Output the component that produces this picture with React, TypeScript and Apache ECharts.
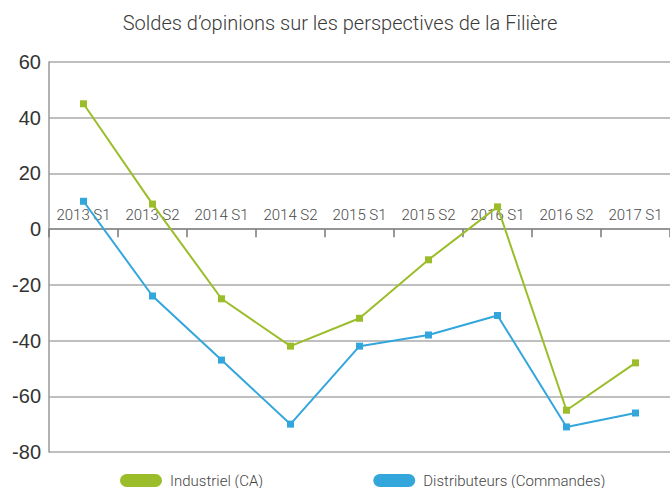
import React, { useEffect, useRef } from "react";
import * as echarts from "echarts";

const categories = ["2013 S1", "2013 S2", "2014 S1", "2014 S2", "2015 S1", "2015 S2", "2016 S1", "2016 S2", "2017 S1"];
const industriel = [45, 9, -25, -42, -32, -11, 8, -65, -48];
const distributeurs = [10, -24, -47, -70, -42, -38, -31, -71, -66];
const seriesNames = ["Industriel (CA)", "Distributeurs (Commandes)"];
const titleText = "Soldes d\u2019opinions sur les perspectives de la Filière";

const narrow = 'Roboto, "Liberation Sans", sans-serif';
const capsule = "path://M6.5,0 L35.5,0 A6.5,6.5 0 0 1 35.5,13 L6.5,13 A6.5,6.5 0 0 1 6.5,0 Z";

export default function App() {
  const ref = useRef<HTMLDivElement>(null);
  useEffect(() => {
    if (!ref.current) return;
    const chart = echarts.init(ref.current, null, { renderer: "svg" });
    chart.setOption({
      animation: false,
      backgroundColor: "#ffffff",
      graphic: [
        {
          type: "text",
          x: 340,
          y: 23,
          scaleX: 0.955,
          style: {
            text: titleText,
            fontFamily: narrow,
            fontSize: 21,
            fontWeight: 300,
            fill: "#3a3a3a",
            align: "center",
            verticalAlign: "middle",
          },
        },
      ],
      legend: {
        left: 120,
        top: 473,
        padding: 0,
        itemWidth: 42,
        itemHeight: 13,
        itemGap: 110,
        icon: capsule,
        textStyle: { fontFamily: narrow, fontSize: 15, lineHeight: 15, fontWeight: 300, color: "#444", padding: [0, 0, 0, 3] },
        data: seriesNames,
      },
      grid: { left: 49, top: 62, width: 630, height: 390, containLabel: false },
      xAxis: {
        type: "category",
        data: categories,
        boundaryGap: true,
        axisLine: { onZero: true, lineStyle: { color: "#888", width: 1.5 } },
        axisTick: { show: true, inside: false, length: 8, lineStyle: { color: "#777", width: 1.5 } },
        axisLabel: { inside: true, margin: 230, fontFamily: narrow, fontSize: 15, fontWeight: 300, color: "#4a4a4a", interval: 0 },
        splitLine: { show: false },
      },
      yAxis: {
        type: "value",
        min: -80,
        max: 60,
        interval: 20,
        axisLine: { show: true, lineStyle: { color: "#999", width: 1.5 } },
        axisTick: { show: false },
        axisLabel: { fontFamily: '"Liberation Sans", Arial, sans-serif', fontSize: 20, color: "#333", margin: 8 },
        splitLine: { show: true, lineStyle: { color: "#aaa", width: 1.5 } },
      },
      series: [
        {
          name: seriesNames[0],
          type: "line",
          data: industriel,
          symbol: "rect",
          symbolSize: 7,
          color: "#9bbd2a",
          lineStyle: { width: 2, color: "#9bbd2a" },
          itemStyle: { color: "#9bbd2a" },
          z: 3,
        },
        {
          name: seriesNames[1],
          type: "line",
          data: distributeurs,
          symbol: "rect",
          symbolSize: 7,
          color: "#33a6dc",
          lineStyle: { width: 2, color: "#33a6dc" },
          itemStyle: { color: "#33a6dc" },
          z: 2,
        },
      ],
    });
    return () => chart.dispose();
  }, []);
  return (
    <div
      ref={ref}
      style={{ position: "fixed", left: 0, top: 0, width: 670, height: 488, overflow: "hidden" }}
    />
  );
}
